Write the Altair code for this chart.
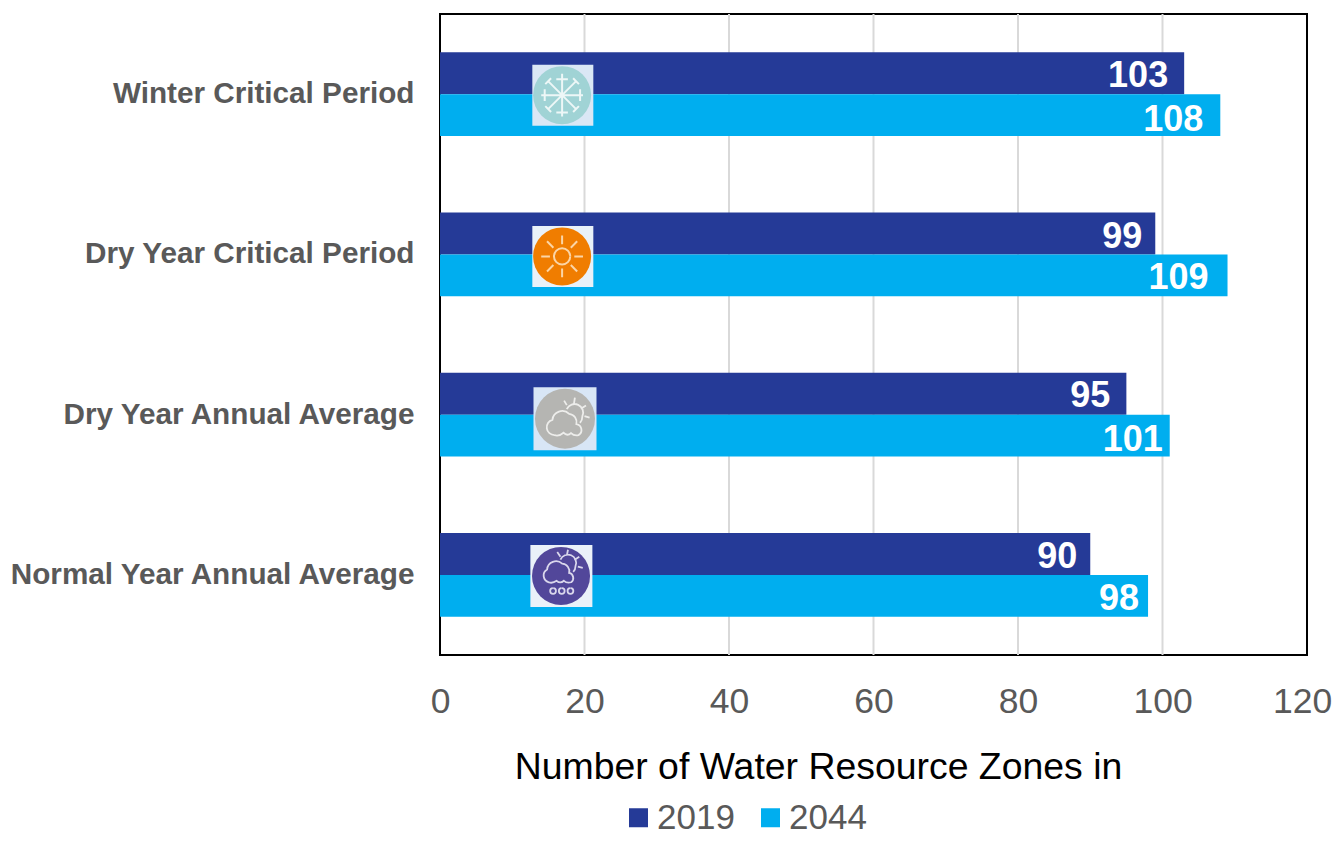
import altair as alt
import pandas as pd

categories = ["Winter Critical Period", "Dry Year Critical Period", "Dry Year Annual Average", "Normal Year Annual Average"]
series = ["2019", "2044"]
values_2019 = [103, 99, 95, 90]
values_2044 = [108, 109, 101, 98]
x_ticks = [0, 20, 40, 60, 80, 100, 120]
grid_lines = [20, 40, 60, 80, 100]
label_dx_2019 = [-16, -13, -16, -13]
label_dx_2044 = [-17, -19, -7, -9]
label_dy_2019 = [3, 4, 2, 3]
label_dy_2044 = [5, 3, 4, 3]

DARK, LIGHT = "#253A97", "#00AEEF"
GREY = "#595959"
FONT = "Liberation Sans"

rows = []
for c, a, b, dxa, dxb, dya, dyb in zip(categories, values_2019, values_2044,
                                       label_dx_2019, label_dx_2044, label_dy_2019, label_dy_2044):
    rows.append({"cat": c, "series": "2019", "value": a, "dx": dxa, "dy": dya})
    rows.append({"cat": c, "series": "2044", "value": b, "dx": dxb, "dy": dyb})
df = pd.DataFrame(rows)

x = alt.X("value:Q",
          scale=alt.Scale(domain=[0, 120], nice=False, zero=True),
          axis=alt.Axis(values=x_ticks, grid=False,
                        ticks=False, domain=False, labelFont=FONT, labelFontSize=35.5,
                        labelColor=GREY, labelPadding=29, labelFlush=False,
                        labelOffset={"condition": {"test": "datum.value === 120", "value": -5}, "value": 0},
                        title="Number of Water Resource Zones in", titleFont=FONT,
                        titleFontSize=37.4, titleFontWeight="normal", titleColor="#000000",
                        titleX=378, titleY=123, titleAlign="center", titleBaseline="alphabetic"))
y = alt.Y("cat:N", sort=categories,
          scale=alt.Scale(domain=categories, paddingInner=0.476, paddingOuter=0.238),
          axis=alt.Axis(title=None, ticks=False, domain=False, labelFont=FONT, labelFontSize=29.7,
                        labelFontWeight="bold", labelColor=GREY, labelPadding=26, labelLimit=500))
yoff = alt.YOffset("series:N", sort=series, scale=alt.Scale(domain=series, paddingInner=0, paddingOuter=0))

grid = alt.Chart(pd.DataFrame({"value": grid_lines})).mark_rule(color="#D9D9D9", strokeWidth=2).encode(x=x)

bars = alt.Chart(df).mark_bar(cornerRadius=0).encode(
    x=x, y=y, yOffset=yoff,
    color=alt.Color("series:N", scale=alt.Scale(domain=series, range=[DARK, LIGHT]),
                    legend=alt.Legend(title=None, orient="none", legendX=181, legendY=786,
                                      direction="horizontal", symbolType="square", symbolSize=361,
                                      symbolStrokeWidth=0, labelFont=FONT, labelFontSize=35,
                                      labelColor=GREY, columnPadding=18, labelOffset=1)))

label_layers = []
for row in rows:
    label_layers.append(
        alt.Chart(pd.DataFrame([row])).mark_text(
            align="right", baseline="middle", dx=row["dx"], dy=row["dy"], color="white",
            font=FONT, fontWeight="bold", fontSize=36).encode(
            x="value:Q", y=alt.Y("cat:N", sort=categories),
            yOffset=alt.YOffset("series:N", sort=series), text="value:Q"))

SNOW = ("M0 -.74L0 .74M-.72 0L.72 0M-.5 -.5L.5 .5M-.5 .5L.5 -.5"
        "M-.2 -.55L.2 -.55M-.2 .6L.2 .6M-.6 -.2L-.6 .2M.62 -.2L.62 .2"
        "M-.38 -.58L-.58 -.38M.38 -.58L.58 -.38M-.38 .58L-.58 .38M.38 .58L.58 .38")
SUN = ("M.28 0A.28 .28 0 1 1 -.28 0A.28 .28 0 1 1 .28 0"
       "M0 -.42L0 -.72M0 .42L0 .72M-.42 0L-.72 0M.42 0L.72 0"
       "M.3 -.3L.52 -.52M-.3 -.3L-.52 -.52M.3 .3L.52 .52M-.3 .3L-.52 .52")
CLOUD = ("M-.35 .55A.26 .26 0 0 1 -.42 .04A.33 .33 0 0 1 .14 -.16A.28 .28 0 0 1 .38 .18"
         "A.2 .2 0 0 1 .45 .55Q.3 .58 .2 .48Q.08 .6 -.05 .47Q-.2 .6 -.35 .55"
         "M.06 -.32A.27 .27 0 0 1 .58 -.08Q.58 .05 .5 .14"
         "M-.03 -.6L.06 -.45M.33 -.7L.3 -.5M.7 -.44L.53 -.33M.82 -.03L.65 -.08")
RAIN = ("M-.42 .22A.24 .24 0 0 1 -.48 -.22A.31 .31 0 0 1 .04 -.42A.26 .26 0 0 1 .28 -.1"
        "A.18 .18 0 0 1 .35 .22Q.2 .26 .1 .17Q-.03 .28 -.15 .17Q-.3 .27 -.42 .22"
        "M-.02 -.56A.26 .26 0 0 1 .5 -.34Q.5 -.22 .42 -.14"
        "M-.13 -.82L-.02 -.66M.24 -.9L.2 -.7M.63 -.66L.46 -.55M.75 -.28L.58 -.32"
        "M-.28 .42A.1 .1 0 1 0 -.27 .42M.02 .42A.1 .1 0 1 0 .03 .42M.32 .42A.1 .1 0 1 0 .33 .42")

icons = [
    (categories[0], 16.9, 17.0, 1, 61, 58, "#DAE7F5", "#A0D3D5", "#EDF7F7", SNOW, 2.0),
    (categories[1], 16.9, 17.0, 2, 61, 58, "#E9F1F9", "#F07D00", "#FBD5A6", SUN, 2.0),
    (categories[2], 17.3, 17.3, 4, 63, 60, "#D8E6F6", "#B5B5B2", "#EDEDEB", CLOUD, 1.8),
    (categories[3], 16.75, 16.8, 1, 62, 58, "#EAF1F9", "#52479A", "#DAD7EC", RAIN, 1.8),
]
icon_layers = []
for cat, xv, sx, dy, side, d, sq_c, disc_c, gl_c, glyph, sw in icons:
    one = pd.DataFrame({"cat": [cat], "value": [xv], "sq": [sx]})
    base = alt.Chart(one)
    ychan = alt.Y("cat:N", sort=categories)
    icon_layers.append(base.mark_point(shape="square", filled=True, opacity=1, color=sq_c, size=side * side,
                                       yOffset=dy, strokeWidth=0).encode(x="sq:Q", y=ychan))
    icon_layers.append(base.mark_point(shape="circle", filled=True, opacity=1, color=disc_c,
                                       size=d * d, yOffset=dy, strokeWidth=0).encode(x="value:Q", y=ychan))
    icon_layers.append(base.mark_point(shape=glyph, filled=False, opacity=1, color=gl_c, size=d * d,
                                       yOffset=dy, strokeWidth=sw).encode(x="value:Q", y=ychan))

chart = alt.layer(grid, bars, *icon_layers, *label_layers).properties(
    width=867, height=641, autosize=alt.AutoSizeParams(type="none"),
    padding={"left": 432, "top": 6, "right": 26, "bottom": 180},
).configure_view(stroke="#000000", strokeWidth=2)

chart.save("out.html", embed_options={"renderer": "svg", "actions": False})
